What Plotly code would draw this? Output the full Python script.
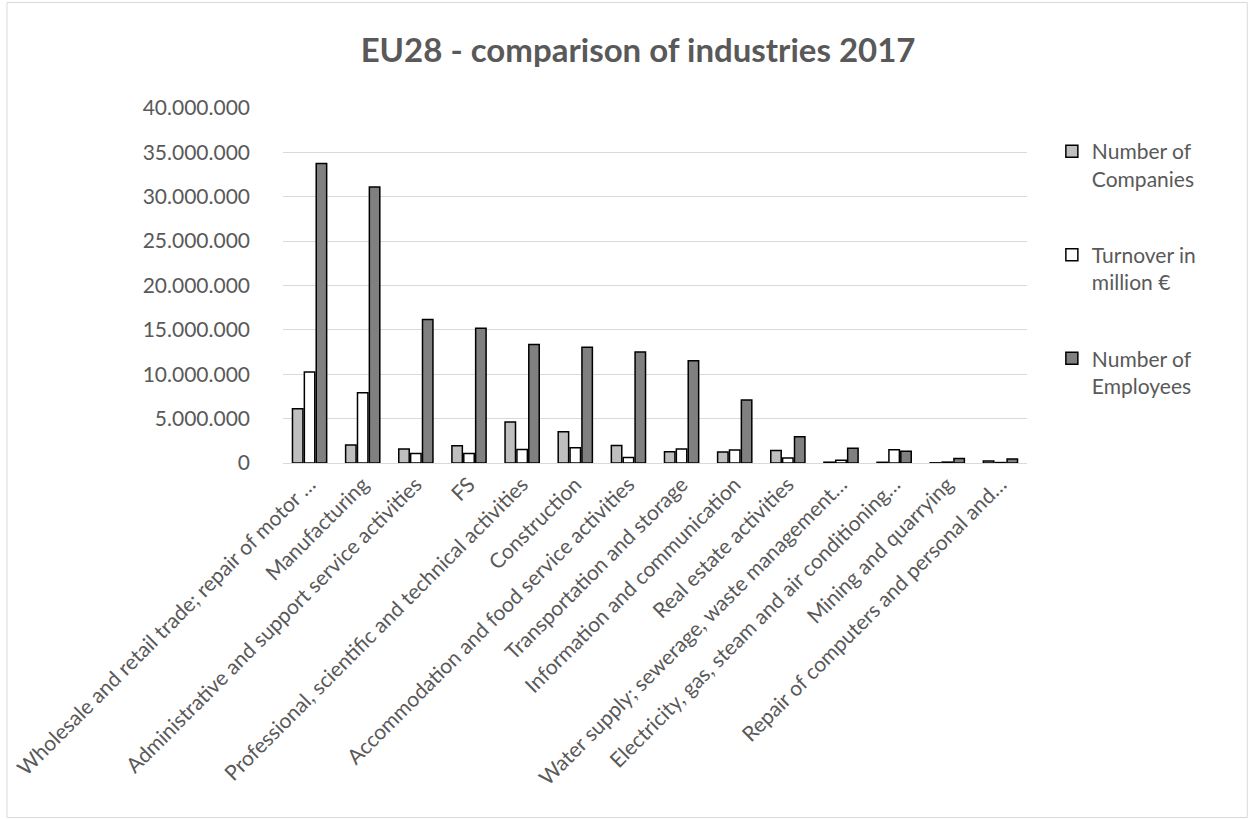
import plotly.graph_objects as go

categories = [
    "Wholesale and retail trade; repair of motor …",
    "Manufacturing",
    "Administrative and support service activities",
    "FS",
    "Professional, scientific and technical activities",
    "Construction",
    "Accommodation and food service activities",
    "Transportation and storage",
    "Information and communication",
    "Real estate activities",
    "Water supply; sewerage, waste management…",
    "Electricity, gas, steam and air conditioning…",
    "Mining and quarrying",
    "Repair of computers and personal and…",
]

companies = [6120000, 2030000, 1580000, 1950000, 4620000, 3530000, 1980000,
             1270000, 1240000, 1420000, 90000, 80000, 20000, 220000]
turnover = [10250000, 7920000, 1080000, 1080000, 1530000, 1720000, 630000,
            1580000, 1460000, 560000, 300000, 1500000, 100000, 50000]
employees = [33760000, 31100000, 16180000, 15170000, 13360000, 13030000, 12500000,
             11530000, 7100000, 2960000, 1650000, 1310000, 520000, 450000]

series_names = ["Number of<br>Companies", "Turnover in<br>million €", "Number of<br>Employees"]
series_values = [companies, turnover, employees]
series_colors = ["#BFBFBF", "#FFFFFF", "#808080"]

y_ticks = [0, 5000000, 10000000, 15000000, 20000000, 25000000, 30000000, 35000000, 40000000]

FONT = "Lato"
TXT = "#595959"

fig = go.Figure()
for i, (name, vals, col) in enumerate(zip(series_names, series_values, series_colors)):
    fig.add_trace(go.Bar(
        x=categories, y=vals, name=name, legendgroup=f"g{i}",
        marker=dict(color=col, line=dict(color="#000000", width=1.5)),
    ))

W, H = 1250, 819
L, R, T, B = 279, 223, 108, 356
pw, ph = W - L - R, H - T - B

fig.update_layout(
    width=W, height=H,
    margin=dict(l=L, r=R, t=T, b=B, pad=0),
    paper_bgcolor="white", plot_bgcolor="white",
    separators=",.",
    barmode="group", bargap=0.33, bargroupgap=0.12,
    font=dict(family=FONT, size=21, color=TXT),
    title=dict(text="<b>EU28 - comparison of industries 2017</b>",
               x=(636 - L) / pw, xanchor="center", xref="paper",
               y=1 - 50 / H, yanchor="middle", yref="container",
               font=dict(family=FONT, size=33, color=TXT)),
    legend=dict(x=(1052 - L) / pw, xanchor="left", y=(463 - 131) / ph, yanchor="top",
                valign="top", tracegroupgap=46, traceorder="grouped",
                font=dict(family=FONT, size=21, color=TXT),
                bgcolor="rgba(0,0,0,0)"),
    xaxis=dict(tickangle=-45, showgrid=False, showline=True, linecolor="#D9D9D9",
               linewidth=1, ticks="", tickfont=dict(family=FONT, size=21, color=TXT)),
    yaxis=dict(range=[0, 40000000], tickvals=y_ticks, tickformat=",d",
               showgrid=True, gridcolor="#D9D9D9", gridwidth=1, zeroline=False,
               showline=False, ticks="", ticklabelstandoff=32,
               tickfont=dict(family=FONT, size=21, color=TXT)),
    shapes=[dict(type="rect", xref="paper", yref="paper",
                 x0=(1.5 - L) / pw, x1=(1248.5 - L) / pw,
                 y0=(463 - 817.5) / ph, y1=(463 - 2.5) / ph,
                 line=dict(color="#D9D9D9", width=1), fillcolor="rgba(0,0,0,0)",
                 layer="below")],
    showlegend=True,
)

fig.write_html("out.html")
